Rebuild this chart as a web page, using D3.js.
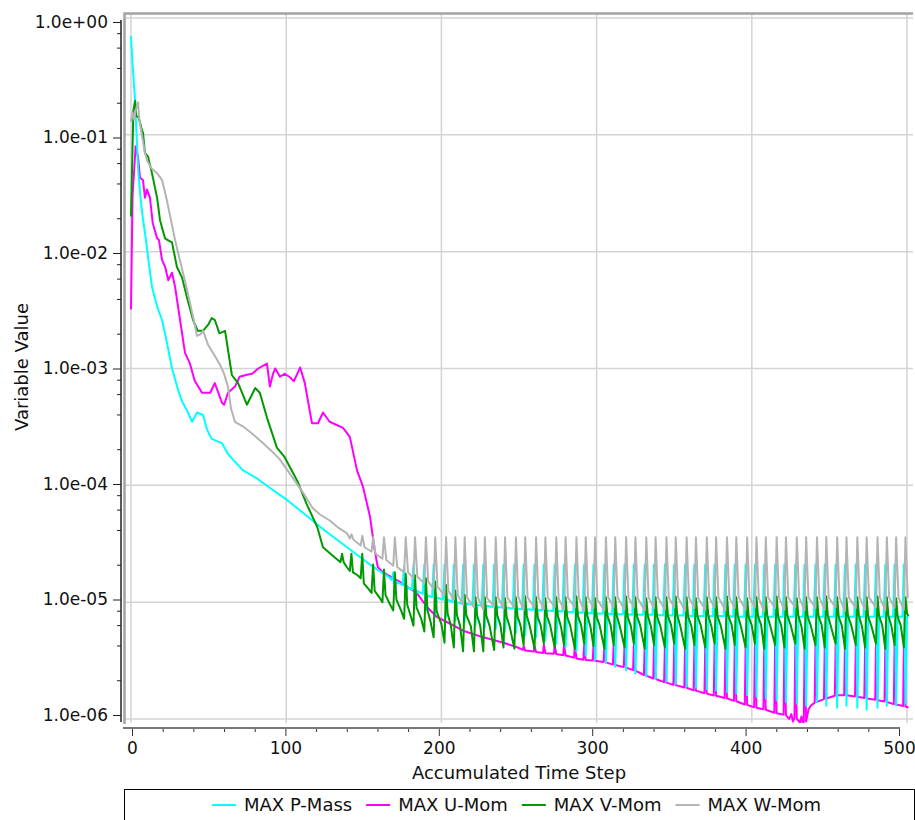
<!DOCTYPE html>
<html>
<head>
<meta charset="utf-8">
<script src="https://cdn.jsdelivr.net/npm/d3@7"></script>
<style>
  body { margin: 0; background: #fff; }
  text { font-family: "DejaVu Sans", Verdana, sans-serif; fill: #111; }
</style>
</head>
<body>
<div id="chart"></div>
<script>
// ---- data: [accumulated time step, value] ----
const seriesNames = ["MAX P-Mass", "MAX U-Mom", "MAX V-Mom", "MAX W-Mom"];
const seriesColors = ["#00ffff", "#ff00ff", "#009900", "#b4b4b4"];

const xTicks = [0, 100, 200, 300, 400, 500];
const yTicks = [1, 1e-1, 1e-2, 1e-3, 1e-4, 1e-5, 1e-6];
const yTickLabels = ["1.0e+00", "1.0e-01", "1.0e-02", "1.0e-03", "1.0e-04", "1.0e-05", "1.0e-06"];

const pMass = [
  [0,7.0e-1],[1,4.0e-1],[2.6,2.0e-1],[4.5,5.3e-2],[6,3.0e-2],[7.7,1.9e-2],[9.5,1.3e-2],[11,9.0e-3],
  [13.5,5.0e-3],[16.8,3.4e-3],[20,2.6e-3],[23,1.7e-3],[26.4,1.0e-3],[30.3,6.6e-4],[33,5.2e-4],[36,4.4e-4],
  [39.3,3.5e-4],[42.5,4.2e-4],[46.4,4.0e-4],[49,3.0e-4],[52,2.5e-4],[58.6,2.3e-4],[62,1.9e-4],[65,1.7e-4],
  [72,1.35e-4],[81,1.15e-4],[89.6,9.5e-5],[100.5,7.5e-5],[111,5.8e-5],[122,4.4e-5],[133,3.4e-5],[143,2.7e-5],
  [154,2.1e-5],[160,1.85e-5],[166,1.65e-5],
  [168,1.55e-5],[169,1.8e-5],[170,1.3e-5],[171,1.5e-5],
  [175,1.4e-5],[176,2.0e-5],[177,1.1e-5],[178,1.35e-5],
  [181,1.28e-5],[182,2.1e-5],[183,9.5e-6],[184,1.25e-5],
  [188,1.18e-5],[189,2.1e-5],[190,8.5e-6],[191,1.15e-5],
  [194,1.1e-5],[195,2.1e-5],[196,8.0e-6],[197,1.1e-5],
  [201,1.05e-5],[202,2.1e-5],[203,7.5e-6],[204,1.05e-5],
  [207,1.0e-5],[208,2.1e-5],[209,7.0e-6],[210,1.0e-5],
  [213,9.7e-6],[214,2.1e-5],[215,6.7e-6],[216,9.7e-6],
  [220,9.5e-6],[221,2.1e-5],[222,6.4e-6],[223,9.5e-6],
  [226,9.3e-6],[227,2.1e-5],[228,6.1e-6],[229,9.3e-6],
  [233,9.1e-6],[234,2.1e-5],[235,5.9e-6],[236,9.1e-6],
  [239,9.0e-6],[240,2.1e-5],[241,5.6e-6],[242,9.0e-6],
  [246,8.8e-6],[247,2.1e-5],[248,5.4e-6],[249,8.8e-6],
  [252,8.7e-6],[253,2.1e-5],[254,5.2e-6],[255,8.7e-6],
  [259,8.6e-6],[260,2.1e-5],[261,5.0e-6],[262,8.6e-6],
  [265,8.5e-6],[266,2.1e-5],[267,4.7e-6],[268,8.5e-6],
  [272,8.4e-6],[273,2.1e-5],[274,4.4e-6],[275,8.4e-6],
  [278,8.3e-6],[279,2.1e-5],[280,4.1e-6],[281,8.3e-6],
  [285,8.2e-6],[286,2.1e-5],[287,3.8e-6],[288,8.2e-6],
  [291,8.1e-6],[292,2.1e-5],[293,3.5e-6],[294,8.1e-6],
  [297,8.0e-6],[298,2.1e-5],[299,3.2e-6],[300,8.0e-6],
  [304,8.0e-6],[305,2.1e-5],[306,3.0e-6],[307,8.0e-6],
  [310,7.9e-6],[311,2.1e-5],[312,2.8e-6],[313,7.9e-6],
  [317,7.9e-6],[318,2.1e-5],[319,2.6e-6],[320,7.9e-6],
  [323,7.8e-6],[324,2.1e-5],[325,2.45e-6],[326,7.8e-6],
  [330,7.8e-6],[331,2.1e-5],[332,2.3e-6],[333,7.8e-6],
  [336,7.8e-6],[337,2.1e-5],[338,2.2e-6],[339,7.8e-6],
  [343,7.7e-6],[344,2.1e-5],[345,2.1e-6],[346,7.7e-6],
  [349,7.7e-6],[350,2.1e-5],[351,2.0e-6],[352,7.7e-6],
  [356,7.7e-6],[357,2.1e-5],[358,1.9e-6],[359,7.7e-6],
  [362,7.6e-6],[363,2.1e-5],[364,1.85e-6],[365,7.6e-6],
  [369,7.6e-6],[370,2.1e-5],[371,1.8e-6],[372,7.6e-6],
  [375,7.6e-6],[376,2.1e-5],[377,1.75e-6],[378,7.6e-6],
  [382,7.6e-6],[383,2.1e-5],[384,1.7e-6],[385,7.6e-6],
  [388,7.5e-6],[389,2.1e-5],[390,1.65e-6],[391,7.5e-6],
  [395,7.5e-6],[396,2.1e-5],[397,1.6e-6],[398,7.5e-6],
  [401,7.5e-6],[402,2.1e-5],[403,1.55e-6],[404,7.5e-6],
  [407,7.5e-6],[408,2.1e-5],[409,1.5e-6],[410,7.5e-6],
  [414,7.5e-6],[415,2.1e-5],[416,1.45e-6],[417,7.5e-6],
  [420,7.5e-6],[421,2.1e-5],[422,1.4e-6],[423,7.5e-6],
  [427,7.5e-6],[428,2.1e-5],[429,1.35e-6],[430,7.5e-6],
  [433,7.5e-6],[434,2.1e-5],[435,1.3e-6],[436,7.5e-6],
  [440,7.5e-6],[441,2.1e-5],[442,1.4e-6],[443,7.5e-6],
  [446,7.5e-6],[447,2.1e-5],[448,1.3e-6],[449,7.5e-6],
  [453,7.5e-6],[454,2.1e-5],[455,1.25e-6],[456,7.5e-6],
  [459,7.5e-6],[460,2.1e-5],[461,1.3e-6],[462,7.5e-6],
  [466,7.5e-6],[467,2.1e-5],[468,1.25e-6],[469,7.5e-6],
  [472,7.5e-6],[473,2.1e-5],[474,1.2e-6],[475,7.5e-6],
  [479,7.5e-6],[480,2.1e-5],[481,1.25e-6],[482,7.5e-6],
  [485,7.5e-6],[486,2.1e-5],[487,1.3e-6],[488,7.5e-6],
  [491,7.5e-6],[492,2.1e-5],[493,1.3e-6],[494,7.5e-6],
  [497,7.5e-6],[498,2.1e-5],[499,1.35e-6],[500,7.5e-6],[501,7.5e-6]
];

const uMom = [
  [0,3.2e-3],[1,3.0e-2],[3,8.0e-2],[4.5,6.5e-2],[5.8,4.3e-2],[7.7,4.1e-2],[9,2.9e-2],[10.3,3.4e-2],
  [12.2,2.9e-2],[14,1.76e-2],[16.8,1.3e-2],[18,1.26e-2],[20,8.5e-3],[22,7.4e-3],[24,5.7e-3],[26.4,6.6e-3],
  [28.4,5.0e-3],[31.6,2.6e-3],[34.8,1.36e-3],[38,1.1e-3],[41,7.9e-4],[45.7,6.2e-4],[51,6.2e-4],[54,7.5e-4],
  [58.6,5.1e-4],[60,4.9e-4],[62.5,6.2e-4],[67,7.0e-4],[70,8.5e-4],[74,8.8e-4],[78,9.0e-4],[82,1.0e-3],
  [87.6,1.1e-3],[89.5,7.0e-4],[91.5,9.0e-4],[93,1.0e-3],[96,8.5e-4],[99,9.0e-4],[102,8.5e-4],[105,7.8e-4],
  [109,1.02e-3],[112,7.5e-4],[116.6,3.4e-4],[120.5,3.4e-4],[123.7,4.2e-4],[128,3.5e-4],[136.6,3.1e-4],
  [141,2.6e-4],[145.6,1.35e-4],[149.5,9.7e-5],[154,5.4e-5],[157,2.8e-5],[159,2.0e-5],[162.4,1.8e-5],
  [173,1.5e-5],[184,1.2e-5],[191,9.0e-6],[197,7.5e-6],[205,6.6e-6],[214,5.7e-6],[227,5.0e-6],[240,4.5e-6],
  [250,4.05e-6],
  [252.5,3.9e-6],[253,4.2e-6],[254,3.85e-6],
  [259.5,3.78e-6],[260,4.2e-6],[261,3.75e-6],
  [265.5,3.68e-6],[266,4.3e-6],[267,3.65e-6],
  [272.5,3.62e-6],[273,4.3e-6],[274,3.6e-6],
  [278.5,3.52e-6],[279,4.3e-6],[280,3.5e-6],
  [285.5,3.35e-6],[286,4.3e-6],[287,3.3e-6],
  [291.5,3.22e-6],[292,4.3e-6],[293,3.2e-6],
  [297.5,3.16e-6],[298,4.3e-6],[299,3.15e-6],
  [304.5,3.08e-6],[305,4.3e-6],[306,3.05e-6],
  [310.5,2.92e-6],[311,4.3e-6],[312,2.9e-6],
  [317.5,2.78e-6],[318,4.3e-6],[319,2.75e-6],
  [323.5,2.62e-6],[324,4.3e-6],[325,2.6e-6],
  [330.5,2.38e-6],[331,4.3e-6],[332,2.35e-6],
  [336.5,2.22e-6],[337,4.3e-6],[338,2.2e-6],
  [343.5,2.07e-6],[344,4.3e-6],[345,2.05e-6],
  [349.5,1.96e-6],[350,4.3e-6],[351,1.95e-6],
  [356.5,1.86e-6],[357,4.3e-6],[358,1.85e-6],
  [362.5,1.76e-6],[363,4.3e-6],[364,1.75e-6],
  [369.5,1.66e-6],[370,4.3e-6],[371,1.65e-6],
  [375.5,1.59e-6],[376,4.3e-6],[377,1.58e-6],
  [382.5,1.51e-6],[383,4.3e-6],[384,1.5e-6],
  [388.5,1.43e-6],[389,4.3e-6],[390,1.42e-6],
  [395.5,1.33e-6],[396,4.3e-6],[397,1.32e-6],
  [401.5,1.26e-6],[402,4.3e-6],[403,1.25e-6],
  [407.5,1.21e-6],[408,4.3e-6],[409,1.2e-6],
  [414.5,1.13e-6],[415,4.3e-6],[416,1.12e-6],
  [420.5,1.09e-6],[421,4.3e-6],[422,1.08e-6],
  [424,1.0e-6],[425.5,1.1e-6],[426.5,9.5e-7],
  [427.5,1.02e-6],[428,4.3e-6],[429,1.0e-6],
  [431,9.3e-7],[432,1.05e-6],[433,9.0e-7],
  [433.5,9.5e-7],[434,4.2e-6],[435,9.5e-7],
  [436.5,1.2e-6],[438,1.3e-6],
  [440.5,1.38e-6],[441,4.3e-6],[442,1.4e-6],
  [446.5,1.48e-6],[447,4.3e-6],[448,1.5e-6],
  [453.5,1.58e-6],[454,4.3e-6],[455,1.6e-6],
  [459.5,1.6e-6],[460,4.3e-6],[461,1.6e-6],
  [466.5,1.56e-6],[467,4.3e-6],[468,1.55e-6],
  [472.5,1.51e-6],[473,4.3e-6],[474,1.5e-6],
  [479.5,1.46e-6],[480,4.3e-6],[481,1.45e-6],
  [485.5,1.41e-6],[486,4.3e-6],[487,1.4e-6],
  [491.5,1.34e-6],[492,4.3e-6],[493,1.33e-6],
  [497.5,1.29e-6],[498,4.3e-6],[499,1.28e-6],[501,1.25e-6]
];

const vMom = [
  [0,2.0e-2],[1.5,1.6e-1],[2.6,1.95e-1],[3.5,1.45e-1],[5,1.4e-1],[7,1.1e-1],[7.7,1.05e-1],[9,7.0e-2],
  [11,6.5e-2],[13.5,4.7e-2],[16.8,2.9e-2],[18.7,1.86e-2],[21.9,1.3e-2],[24,1.25e-2],[26.4,1.2e-2],
  [29.6,7.4e-3],[32.9,6.0e-3],[36,4.1e-3],[40,2.6e-3],[43,2.1e-3],[46.4,2.1e-3],[50,2.4e-3],[52,2.7e-3],
  [54,2.6e-3],[57,2.0e-3],[60.6,2.1e-3],[65,8.8e-4],[69,7.5e-4],[74.7,4.9e-4],[80,6.8e-4],[83,6.2e-4],
  [87.6,3.8e-4],[94,2.1e-4],[99,1.74e-4],[107,1.1e-4],[113,7.0e-5],[120,4.4e-5],[123.7,2.95e-5],
  [130,2.5e-5],[135,2.2e-5],
  [136,2.6e-5],[137,2.2e-5],[139,2.0e-5],[141,1.85e-5],
  [142,2.6e-5],[143,1.8e-5],[146,1.7e-5],[148,1.6e-5],
  [149,2.6e-5],[150,1.45e-5],[153,1.3e-5],[155,1.2e-5],
  [156,2.1e-5],[157,1.25e-5],[160,1.1e-5],[162,1.0e-5],
  [163,1.9e-5],[164,1.15e-5],[167,9.5e-6],[169,8.5e-6],
  [170,1.8e-5],[171,1.05e-5],[174,8.5e-6],[176,7.2e-6],
  [177,1.75e-5],[178,9.5e-6],[180,7.8e-6],[182,6.3e-6],
  [183,1.7e-5],[184,9.0e-6],[187,7.2e-6],[189,5.6e-6],
  [190,1.6e-5],[191,8.6e-6],[193,6.8e-6],[195,5.0e-6],
  [196,1.5e-5],[197,8.3e-6],[200,6.5e-6],[202,4.5e-6],
  [203,1.4e-5],[204,8.0e-6],[206,6.4e-6],[208,4.1e-6],
  [209,1.25e-5],[210,7.8e-6],[212,6.3e-6],[214,3.8e-6],
  [215,1.15e-5],[216,7.8e-6],[219,6.2e-6],[221,3.8e-6],
  [222,1.1e-5],[223,7.7e-6],[225,6.3e-6],[227,3.8e-6],
  [228,1.1e-5],[229,7.6e-6],[231,6.3e-6],[234,3.9e-6],
  [235,1.1e-5],[236,7.7e-6],[238,6.4e-6],[240,4.1e-6],
  [241,1.08e-5],[242,7.5e-6],[244,6.2e-6],[247,4.0e-6],
  [248,1.1e-5],[249,7.6e-6],[251,6.3e-6],[253,4.3e-6],
  [254,1.12e-5],[255,7.7e-6],[257,6.2e-6],[260,4.0e-6],
  [261,1.1e-5],[262,7.5e-6],[264,6.3e-6],[266,4.4e-6],
  [267,1.08e-5],[268,7.6e-6],[270,6.4e-6],[273,4.1e-6],
  [274,1.1e-5],[275,7.7e-6],[277,6.2e-6],[279,4.3e-6],
  [280,1.1e-5],[281,7.5e-6],[283,6.3e-6],[286,4.0e-6],
  [287,1.12e-5],[288,7.6e-6],[290,6.4e-6],[292,4.4e-6],
  [293,1.1e-5],[294,7.7e-6],[296,6.2e-6],[298,4.2e-6],
  [299,1.08e-5],[300,7.5e-6],[302,6.3e-6],[305,4.0e-6],
  [306,1.1e-5],[307,7.6e-6],[309,6.4e-6],[311,4.3e-6],
  [312,1.1e-5],[313,7.7e-6],[315,6.2e-6],[318,4.1e-6],
  [319,1.12e-5],[320,7.5e-6],[322,6.3e-6],[324,4.4e-6],
  [325,1.1e-5],[326,7.6e-6],[328,6.4e-6],[331,4.0e-6],
  [332,1.08e-5],[333,7.7e-6],[335,6.2e-6],[337,4.3e-6],
  [338,1.1e-5],[339,7.5e-6],[341,6.3e-6],[344,4.1e-6],
  [345,1.1e-5],[346,7.6e-6],[348,6.4e-6],[350,4.4e-6],
  [351,1.12e-5],[352,7.7e-6],[354,6.2e-6],[357,4.0e-6],
  [358,1.1e-5],[359,7.5e-6],[361,6.3e-6],[363,4.3e-6],
  [364,1.08e-5],[365,7.6e-6],[367,6.4e-6],[370,4.1e-6],
  [371,1.1e-5],[372,7.7e-6],[374,6.2e-6],[376,4.4e-6],
  [377,1.1e-5],[378,7.5e-6],[380,6.3e-6],[383,4.0e-6],
  [384,1.12e-5],[385,7.6e-6],[387,6.4e-6],[389,4.3e-6],
  [390,1.1e-5],[391,7.7e-6],[393,6.2e-6],[396,4.1e-6],
  [397,1.08e-5],[398,7.5e-6],[400,6.3e-6],[402,4.4e-6],
  [403,1.1e-5],[404,7.6e-6],[406,6.4e-6],[408,4.0e-6],
  [409,1.1e-5],[410,7.7e-6],[412,6.2e-6],[415,4.3e-6],
  [416,1.12e-5],[417,7.5e-6],[419,6.3e-6],[421,4.1e-6],
  [422,1.1e-5],[423,7.6e-6],[425,6.4e-6],[428,4.4e-6],
  [429,1.08e-5],[430,7.7e-6],[432,6.2e-6],[434,4.0e-6],
  [435,1.1e-5],[436,7.5e-6],[438,6.3e-6],[441,4.3e-6],
  [442,1.1e-5],[443,7.6e-6],[445,6.4e-6],[447,4.1e-6],
  [448,1.12e-5],[449,7.7e-6],[451,6.2e-6],[454,4.4e-6],
  [455,1.1e-5],[456,7.5e-6],[458,6.3e-6],[460,4.0e-6],
  [461,1.08e-5],[462,7.6e-6],[464,6.4e-6],[467,4.3e-6],
  [468,1.1e-5],[469,7.7e-6],[471,6.2e-6],[473,4.1e-6],
  [474,1.1e-5],[475,7.5e-6],[477,6.3e-6],[480,4.4e-6],
  [481,1.12e-5],[482,7.6e-6],[484,6.4e-6],[486,4.0e-6],
  [487,1.1e-5],[488,7.7e-6],[490,6.2e-6],[492,4.3e-6],
  [493,1.08e-5],[494,7.5e-6],[496,6.3e-6],[498,4.1e-6],
  [499,1.1e-5],[500,8.0e-6],[501,7.6e-6]
];

const wMom = [
  [0,1.3e-1],[1,1.55e-1],[2,1.35e-1],[3,1.6e-1],[4.5,1.9e-1],[5.5,1.3e-1],[7,1.0e-1],[9,7.0e-2],
  [10.5,6.0e-2],[13,5.2e-2],[16.8,4.7e-2],[20,4.1e-2],[23,2.8e-2],[26,1.8e-2],[28.4,1.26e-2],[31,9.0e-3],
  [33.5,6.6e-3],[36,4.8e-3],[38.5,3.4e-3],[41,2.4e-3],[42.5,1.9e-3],[44.5,1.95e-3],[46.5,2.1e-3],
  [49.6,1.6e-3],[53,1.35e-3],[57,1.1e-3],[60,9.0e-4],[62.5,7.0e-4],[64.5,4.5e-4],[67,3.5e-4],[72,3.2e-4],
  [77,2.85e-4],[85,2.3e-4],[90,2.0e-4],[96,1.66e-4],[104,1.17e-4],[111,8.6e-5],[117,6.4e-5],[122,5.6e-5],
  [128,5.0e-5],[134,4.3e-5],[139,3.9e-5],
  [141,3.5e-5],[142,3.8e-5],[143.5,3.4e-5],
  [148,3.05e-5],[149,3.7e-5],[150.5,2.95e-5],
  [155,2.7e-5],[156,3.6e-5],[157.5,2.6e-5],
  [162,2.35e-5],[163,3.6e-5],[164.5,2.3e-5],
  [169,2.05e-5],[170,3.6e-5],[171.5,2.0e-5],
  [176,1.8e-5],[177,3.6e-5],[178.5,1.8e-5],
  [182,1.6e-5],[183,3.6e-5],[184.5,1.65e-5],
  [189,1.45e-5],[190,3.6e-5],[191.5,1.5e-5],
  [195,1.3e-5],[196,3.6e-5],[197.5,1.35e-5],
  [202,1.15e-5],[203,3.6e-5],[204.5,1.25e-5],
  [208,1.05e-5],[209,3.6e-5],[210.5,1.15e-5],
  [214,9.5e-6],[215,3.6e-5],[216.5,1.1e-5],
  [221,9.0e-6],[222,3.6e-5],[223.5,1.1e-5],
  [227,8.6e-6],[228,3.6e-5],[229.5,1.08e-5],
  [234,9.2e-6],[235,3.6e-5],[236.5,1.1e-5],
  [240,8.8e-6],[241,3.6e-5],[242.5,1.1e-5],
  [247,9.0e-6],[248,3.6e-5],[249.5,1.12e-5],
  [253,8.5e-6],[254,3.6e-5],[255.5,1.1e-5],
  [260,9.0e-6],[261,3.6e-5],[262.5,1.1e-5],
  [266,8.7e-6],[267,3.6e-5],[268.5,1.1e-5],
  [273,9.1e-6],[274,3.6e-5],[275.5,1.08e-5],
  [279,8.6e-6],[280,3.6e-5],[281.5,1.1e-5],
  [286,9.0e-6],[287,3.6e-5],[288.5,1.1e-5],
  [292,8.4e-6],[293,3.6e-5],[294.5,1.1e-5],
  [298,8.9e-6],[299,3.6e-5],[300.5,1.05e-5],
  [305,8.5e-6],[306,3.6e-5],[307.5,1.1e-5],
  [311,9.0e-6],[312,3.6e-5],[313.5,1.1e-5],
  [318,8.6e-6],[319,3.6e-5],[320.5,1.1e-5],
  [324,9.0e-6],[325,3.6e-5],[326.5,1.08e-5],
  [331,8.5e-6],[332,3.6e-5],[333.5,1.1e-5],
  [337,8.9e-6],[338,3.6e-5],[339.5,1.1e-5],
  [344,8.6e-6],[345,3.6e-5],[346.5,1.1e-5],
  [350,9.0e-6],[351,3.6e-5],[352.5,1.1e-5],
  [357,8.4e-6],[358,3.6e-5],[359.5,1.1e-5],
  [363,8.9e-6],[364,3.6e-5],[365.5,1.08e-5],
  [370,8.6e-6],[371,3.6e-5],[372.5,1.1e-5],
  [376,9.0e-6],[377,3.6e-5],[378.5,1.1e-5],
  [383,8.5e-6],[384,3.6e-5],[385.5,1.1e-5],
  [389,8.9e-6],[390,3.6e-5],[391.5,1.1e-5],
  [396,8.6e-6],[397,3.6e-5],[398.5,1.1e-5],
  [402,9.0e-6],[403,3.6e-5],[404.5,1.08e-5],
  [408,8.4e-6],[409,3.6e-5],[410.5,1.1e-5],
  [415,8.9e-6],[416,3.6e-5],[417.5,1.1e-5],
  [421,8.6e-6],[422,3.6e-5],[423.5,1.1e-5],
  [428,9.0e-6],[429,3.6e-5],[430.5,1.1e-5],
  [434,8.5e-6],[435,3.6e-5],[436.5,1.1e-5],
  [441,8.9e-6],[442,3.6e-5],[443.5,1.1e-5],
  [447,8.6e-6],[448,3.6e-5],[449.5,1.1e-5],
  [454,9.0e-6],[455,3.6e-5],[456.5,1.1e-5],
  [460,8.4e-6],[461,3.6e-5],[462.5,1.1e-5],
  [467,8.9e-6],[468,3.6e-5],[469.5,1.1e-5],
  [473,8.6e-6],[474,3.6e-5],[475.5,1.1e-5],
  [480,9.0e-6],[481,3.6e-5],[482.5,1.1e-5],
  [486,8.5e-6],[487,3.6e-5],[488.5,1.1e-5],
  [492,8.9e-6],[493,3.6e-5],[494.5,1.1e-5],
  [498,8.6e-6],[499,3.6e-5],[500.5,1.1e-5],[501,1.1e-5]
];

// ---- layout ----
const svgWidth = 915;
const svgHeight = 820;

const svg = d3.select("#chart")
  .append("svg")
  .attr("width", svgWidth)
  .attr("height", svgHeight);

svg.append("rect").attr("width", svgWidth).attr("height", svgHeight).attr("fill", "#fff");

// plot (grid + curves) scales
const xScale = d3.scaleLinear().domain([0, 500]).range([131, 907]);
const yScale = d3.scaleLog().domain([1e-6, 1]).range([719, 18]);

// axis scales sit slightly off the grid, as in the original viewer
const xAxisScale = d3.scaleLinear().domain([0, 500]).range([132, 899]);
const yAxisScale = d3.scaleLog().domain([1e-6, 1]).range([715, 22]);

// grid lines
const grid = svg.append("g");
grid.selectAll("line.v")
  .data(xTicks)
  .enter()
  .append("line")
  .attr("x1", d => xScale(d)).attr("x2", d => xScale(d))
  .attr("y1", 14).attr("y2", 723)
  .attr("stroke", "#d4d4d4").attr("stroke-width", 1.5);

grid.selectAll("line.h")
  .data(yTicks)
  .enter()
  .append("line")
  .attr("x1", 125).attr("x2", 913)
  .attr("y1", d => yScale(d)).attr("y2", d => yScale(d))
  .attr("stroke", "#d4d4d4").attr("stroke-width", 1.5);

// frame (top + left)
svg.append("path")
  .attr("d", "M913,13.5H124.5V724")
  .attr("fill", "none")
  .attr("stroke", "#a3a3a3")
  .attr("stroke-width", 2.5);

// curves
svg.append("clipPath").attr("id", "plotClip")
  .append("rect").attr("x", 126).attr("y", 15).attr("width", 789).attr("height", 708);

const lineGen = d3.line()
  .x(d => xScale(d[0]))
  .y(d => yScale(d[1]));

// draw order: magenta, cyan, green, grey on top
const allSeries = [uMom, pMass, vMom, wMom];
const drawColors = [seriesColors[1], seriesColors[0], seriesColors[2], seriesColors[3]];

svg.append("g")
  .attr("clip-path", "url(#plotClip)")
  .selectAll("path")
  .data(allSeries)
  .enter()
  .append("path")
  .attr("d", d => lineGen(d))
  .attr("fill", "none")
  .attr("stroke", (d, i) => drawColors[i])
  .attr("stroke-width", 2)
  .attr("stroke-linejoin", "round");

// ---- y axis ----
const yMinor = [];
yTicks.slice(1).forEach(dec => [2, 4, 6, 8].forEach(m => yMinor.push(dec * m)));

const yAxisG = svg.append("g").attr("transform", "translate(121,0)");
yAxisG.call(d3.axisLeft(yAxisScale)
  .tickValues(yTicks)
  .tickSize(8)
  .tickSizeOuter(0)
  .tickPadding(5)
  .tickFormat((d, i) => yTickLabels[i]));
yAxisG.select(".domain").remove();
yAxisG.append("g").call(d3.axisLeft(yAxisScale)
  .tickValues(yMinor).tickSize(4).tickSizeOuter(0).tickFormat(""))
  .select(".domain").remove();
yAxisG.append("line").attr("x1", 0).attr("x2", 0).attr("y1", 20).attr("y2", 722)
  .attr("stroke", "#222").attr("stroke-width", 1.5);
yAxisG.selectAll("line").attr("stroke", "#222");
yAxisG.selectAll("text")
  .style("font-size", "17px")
  .attr("fill", "#111");

// ---- x axis ----
const xMinor = d3.range(20, 500, 20).filter(v => v % 100 !== 0);
const xAxisG = svg.append("g").attr("transform", "translate(0,728)");
xAxisG.call(d3.axisBottom(xAxisScale)
  .tickValues(xTicks)
  .tickSize(8)
  .tickSizeOuter(0)
  .tickPadding(6)
  .tickFormat(d3.format("d")));
xAxisG.select(".domain").remove();
xAxisG.append("g").call(d3.axisBottom(xAxisScale)
  .tickValues(xMinor).tickSize(4).tickSizeOuter(0).tickFormat(""))
  .select(".domain").remove();
xAxisG.append("line").attr("x1", 123).attr("x2", 900).attr("y1", 0).attr("y2", 0)
  .attr("stroke", "#777").attr("stroke-width", 2);
xAxisG.selectAll(".tick line").attr("stroke", "#333");
xAxisG.selectAll("text")
  .style("font-size", "17px")
  .attr("fill", "#111");

// ---- axis titles ----
svg.append("text")
  .attr("x", 519)
  .attr("y", 779)
  .attr("text-anchor", "middle")
  .style("font-size", "18px")
  .text("Accumulated Time Step");

svg.append("text")
  .attr("transform", "translate(28,367) rotate(-90)")
  .attr("text-anchor", "middle")
  .style("font-size", "18px")
  .text("Variable Value");

// ---- legend ----
svg.append("rect")
  .attr("x", 124.5).attr("y", 789.5)
  .attr("width", 790).attr("height", 40)
  .attr("fill", "#fff").attr("stroke", "#000").attr("stroke-width", 1);

let legendX = 212;
seriesNames.forEach((name, i) => {
  svg.append("line")
    .attr("x1", legendX).attr("x2", legendX + 24)
    .attr("y1", 805).attr("y2", 805)
    .attr("stroke", seriesColors[i]).attr("stroke-width", 2);
  const t = svg.append("text")
    .attr("x", legendX + 32)
    .attr("y", 811)
    .style("font-size", "18px")
    .text(name);
  legendX += 32 + t.node().getComputedTextLength() + 14;
});
</script>
</body>
</html>
